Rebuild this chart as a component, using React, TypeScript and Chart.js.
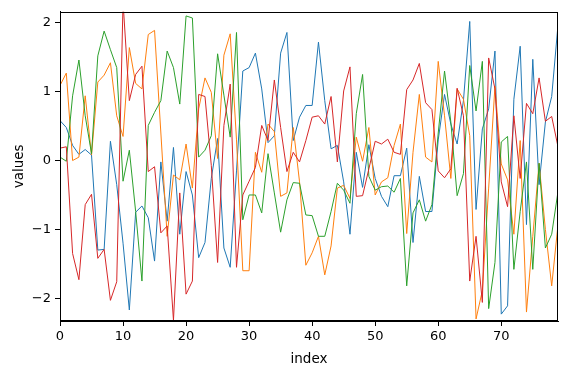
import React, { useEffect, useRef } from "react";
import { Chart, registerables } from "chart.js";

Chart.register(...registerables);

const indices: number[] = Array.from({ length: 80 }, (_, i) => i);

const blueValues: number[] = [
  0.58, 0.48, 0.22, 0.09, 0.16, 0.08, -1.3, -1.29, 0.28, -0.35,
  -1.2, -2.17, -0.75, -0.66, -0.83, -1.46, -0.02, -0.88, 0.19, -1.07,
  -0.16, -0.5, -1.41, -1.19, -0.26, 0.32, -1.27, -1.55, -0.15, 1.3,
  1.35, 1.56, 1.04, 0.26, 0.36, 1.56, 1.86, 0.29, 0.63, 0.8,
  0.8, 1.72, 0.87, 0.17, 0.22, -0.31, -1.07, 0.12, -0.39, 0.23,
  -0.26, -0.52, -0.67, -0.22, -0.22, 0.18, -1.19, -0.23, -0.74, -0.74,
  0.3, 0.96, 0.53, 0.24, 0.87, 2.02, -0.71, 0.46, 0.75, 1.59,
  -2.23, -2.11, 0.89, 1.66, -0.93, 1.47, -0.35, 0.56, 0.93, 1.97,
];

const orangeValues: number[] = [
  1.09, 1.27, 0.0, 0.05, 0.94, 0.08, 1.14, 1.24, 1.42, 0.65,
  0.35, 1.64, 1.12, 1.04, 1.83, 1.89, 0.4, -1.1, -0.21, -0.28,
  0.24, -0.4, 0.75, 1.2, 0.99, 0.03, 1.53, 1.84, 0.3, -1.6,
  -1.6, 0.12, -0.17, 0.53, 0.42, -0.52, -0.47, 0.48, -0.31, -1.52,
  -1.34, -1.1, -1.66, -1.24, -0.4, -0.36, -0.55, 0.34, -0.01, 0.48,
  -0.5, -0.31, -0.25, 0.22, 0.53, -1.06, 0.12, 0.96, 0.05, -0.02,
  1.44, 0.65, -0.26, 1.04, 0.89, 0.36, -2.3, -1.89, -0.4, 1.08,
  -0.05, -0.28, -1.07, 0.29, -2.2, -1.1, -0.04, -1.0, -1.82, -0.93,
];

const greenValues: number[] = [
  0.05, -0.01, 0.94, 1.46, 0.65, 0.1, 1.52, 1.88, 1.61, 1.35,
  -0.3, 0.15, -0.74, -1.75, 0.51, 0.7, 0.87, 1.59, 1.35, 0.82,
  2.1, 2.07, 0.05, 0.15, 0.36, 1.55, 0.95, 0.34, 1.86, -0.86,
  -0.5, -0.5, -0.76, 0.1, -0.47, -1.04, -0.57, -0.32, -0.33, -0.79,
  -0.8, -1.1, -1.1, -0.74, -0.33, -0.43, -0.62, 0.68, 1.25, -0.23,
  -0.43, -0.38, -0.37, -0.46, -0.26, -1.82, -0.76, -0.57, -0.88, -0.64,
  0.4, 1.3, 0.56, -0.51, -0.19, 1.38, 0.72, 1.44, -2.15, -1.48,
  0.27, 0.35, -1.58, -0.74, -0.02, -1.58, -0.04, -1.27, -1.07, -0.45,
];

const redValues: number[] = [
  0.18, 0.2, -1.35, -1.73, -0.64, -0.49, -1.42, -1.29, -2.03, -1.76,
  2.3, 0.87, 1.25, 1.37, -0.16, -0.09, -1.05, -0.95, -2.32, -0.47,
  -1.94, -1.75, 0.96, 0.93, -0.07, -1.48, 0.51, 1.11, -1.55, -0.5,
  -0.3, -0.1, 0.51, 0.29, 1.17, 0.48, -0.16, 0.12, -0.02, 0.29,
  0.63, 0.65, 0.53, 0.93, -0.02, 1.01, 1.36, -0.52, -0.51, -0.12,
  0.28, 0.24, 0.31, 0.12, 0.09, 1.03, 1.17, 1.41, 0.84, 0.74,
  -0.15, -0.25, -0.12, 1.05, 0.65, -1.75, -1.1, -2.06, 1.49, 1.04,
  -0.31, -0.67, 0.65, -0.26, 0.83, 0.68, 1.2, 0.57, 0.64, 0.2,
];

const xTicks: number[] = [0, 10, 20, 30, 40, 50, 60, 70];
const yTicks: number[] = [-2, -1, 0, 1, 2];

const seriesColors = ["#1f77b4", "#ff7f0e", "#2ca02c", "#d62728"];

const fmt = (v: number) => (v < 0 ? "\u2212" + Math.abs(v) : String(v));

const boxPlugin = {
  id: "box",
  afterDraw(chart: any) {
    const { ctx, chartArea } = chart;
    ctx.save();
    ctx.strokeStyle = "#000";
    ctx.lineWidth = 1;
    ctx.strokeRect(
      Math.round(chartArea.left) + 0.5,
      Math.round(chartArea.top) + 0.5,
      Math.round(chartArea.right - chartArea.left) - 1,
      Math.round(chartArea.bottom - chartArea.top) - 1
    );
    ctx.restore();
  },
};

export default function App() {
  const ref = useRef<HTMLCanvasElement>(null);

  useEffect(() => {
    if (!ref.current) return;
    const all = [blueValues, orangeValues, greenValues, redValues];
    const chart = new Chart(ref.current, {
      type: "line",
      data: {
        datasets: all.map((vals, k) => ({
          data: vals.map((v, i) => ({ x: indices[i], y: v })),
          borderColor: seriesColors[k],
          backgroundColor: seriesColors[k],
          borderWidth: 1,
          pointRadius: 0,
          tension: 0,
          fill: false,
          order: 4 - k,
        })),
      },
      options: {
        animation: false,
        responsive: false,
        maintainAspectRatio: false,
        events: [],
        layout: { padding: { top: 9, right: 8, left: 0, bottom: 0 } },
        plugins: { legend: { display: false }, tooltip: { enabled: false } },
        scales: {
          x: {
            type: "linear",
            min: 0,
            max: 79,
            afterBuildTicks: (s: any) => {
              s.ticks = xTicks.map((v) => ({ value: v }));
            },
            afterFit: (s: any) => {
              s.height = 53;
            },
            grid: {
              drawOnChartArea: false,
              drawTicks: true,
              tickLength: 5,
              tickColor: "#000",
            },
            border: { display: true, color: "#000", width: 1 },
            ticks: {
              color: "#000",
              padding: 3,
              maxRotation: 0,
              font: { family: "DejaVu Sans", size: 13 },
              callback: (v: any) => fmt(Number(v)),
            },
            title: {
              display: true,
              text: "index",
              color: "#000",
              font: { family: "DejaVu Sans", size: 13.5 },
              padding: { top: 0, bottom: 6 },
            },
          },
          y: {
            type: "linear",
            min: -2.33,
            max: 2.16,
            afterBuildTicks: (s: any) => {
              s.ticks = yTicks.map((v) => ({ value: v }));
            },
            afterFit: (s: any) => {
              s.width = 60;
            },
            grid: {
              drawOnChartArea: false,
              drawTicks: true,
              tickLength: 5,
              tickColor: "#000",
            },
            border: { display: true, color: "#000", width: 1 },
            ticks: {
              color: "#000",
              padding: 4,
              font: { family: "DejaVu Sans", size: 13 },
              callback: (v: any) => fmt(Number(v)),
            },
            title: {
              display: true,
              text: "values",
              color: "#000",
              font: { family: "DejaVu Sans", size: 13.5 },
              padding: { top: 11, bottom: 0 },
            },
          },
        },
      },
      plugins: [boxPlugin],
    });
    return () => chart.destroy();
  }, []);

  return (
    <div style={{ position: "fixed", left: 0, top: 0, width: 566, height: 374, background: "#fff" }}>
      <canvas ref={ref} width={566} height={374} style={{ width: 566, height: 374 }} />
    </div>
  );
}
